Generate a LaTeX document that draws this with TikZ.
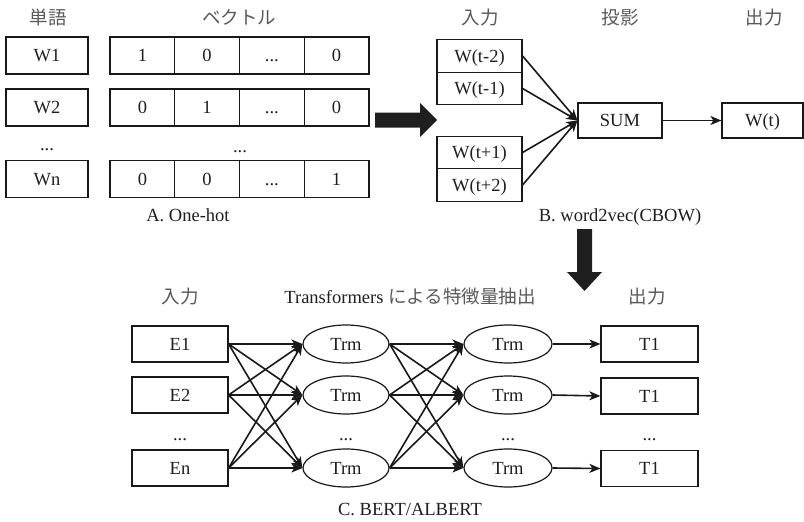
\documentclass[tikz,border=0pt]{standalone}
\usepackage{fontspec}
\setmainfont{Liberation Serif}
\newfontfamily\jpfont{Noto Sans CJK JP}
\usetikzlibrary{arrows.meta,shapes.geometric}

\begin{document}
\begin{tikzpicture}[x=1pt,y=-1pt,
  every node/.style={font=\fontsize{18.5pt}{20pt}\selectfont, text=black!88,
    inner sep=0pt, text height=12pt, text depth=0pt},
  jp/.style={font=\fontsize{18.5pt}{20pt}\selectfont\jpfont, text=black!65},
  frame/.style={draw=black!90, line width=1.2pt, rectangle},
  wbox/.style={frame, minimum width=82pt, minimum height=37pt},
  cell/.style={frame, minimum width=64.75pt, minimum height=37pt},
  ctx/.style={frame, minimum width=85pt, minimum height=32.5pt},
  midbox/.style={frame, minimum width=84pt, minimum height=35pt},
  ebox/.style={frame, minimum width=96pt, minimum height=36pt},
  trm/.style={draw=black!90, line width=1.2pt, ellipse, minimum width=86pt, minimum height=38pt},
  arr/.style={draw=black!90, line width=1.6pt,
    -{Stealth[length=11pt,width=9pt,inset=3pt]}},
  bigarrow/.style={fill=black!88}
]
\useasboundingbox[fill=white] (0,0) rectangle (804,522);

% ---------- A. One-hot ----------
\node[jp] (hwd) at (48,18) {単語};
\node[jp] (hvec) at (239,18) {ベクトル};

\node[wbox] (w1) at (47,55.5) {W1};
\node[wbox] (w2) at (47,107.5) {W2};
\node (wdots) at (47,144) {...};
\node[wbox] (wn) at (47,179) {Wn};

% one-hot vectors, four cells per row
\node[cell] (v11) at (142.4,55.5) {1};
\node[cell] (v12) at (207.1,55.5) {0};
\node[cell] (v13) at (271.9,55.5) {...};
\node[cell] (v14) at (336.6,55.5) {0};

\node[cell] (v21) at (142.4,107.5) {0};
\node[cell] (v22) at (207.1,107.5) {1};
\node[cell] (v23) at (271.9,107.5) {...};
\node[cell] (v24) at (336.6,107.5) {0};

\node (vdots) at (240,146) {...};

\node[cell] (vn1) at (142.4,179) {0};
\node[cell] (vn2) at (207.1,179) {0};
\node[cell] (vn3) at (271.9,179) {...};
\node[cell] (vn4) at (336.6,179) {1};

\node (capa) at (188,215) {A. One-hot};

% block arrow from A to B
\fill[bigarrow] (375,112.5) -- (420,112.5) -- (420,103) -- (437,120)
  -- (420,137) -- (420,127.5) -- (375,127.5) -- cycle;

% ---------- B. word2vec (CBOW) ----------
\node[jp] (hin) at (480,18) {入力};
\node[jp] (hproj) at (620,18) {投影};
\node[jp] (hout) at (764,18) {出力};

\node[ctx] (tm2) at (479.5,56) {W(t-2)};
\node[ctx] (tm1) at (479.5,88.5) {W(t-1)};
\node[ctx] (tp1) at (479.5,152.5) {W(t+1)};
\node[ctx] (tp2) at (479.5,185) {W(t+2)};

\node[midbox] (sum) at (620,120.5) {SUM};
\node[midbox, minimum width=81pt] (wt) at (762.5,120.5) {W(t)};

\foreach \s in {tm2,tm1,tp1,tp2}
  \draw[arr] (\s.east) -- (sum.west);
\draw[arr] (sum.east) -- (wt.west);

\node (capb) at (620,215) {B. word2vec(CBOW)};

% block arrow from B to C
\fill[bigarrow] (577,229) -- (592,229) -- (592,272) -- (602,272)
  -- (584.5,291) -- (567,272) -- (577,272) -- cycle;

% ---------- C. BERT / ALBERT ----------
\node[jp] (cin) at (180,297) {入力};
\node (ctitle) at (410,297) {Transformers {\jpfont\color{black!65}による特徴量抽出}};
\node[jp] (cout) at (647,297) {出力};

\node[ebox] (e1) at (180,344) {E1};
\node[ebox] (e2) at (180,395) {E2};
\node (edots) at (180,434) {...};
\node[ebox] (en) at (180,468) {En};

\node[trm] (a1) at (346,344) {Trm};
\node[trm] (a2) at (346,395) {Trm};
\node (adots) at (346,434) {...};
\node[trm] (an) at (346,468) {Trm};

\node[trm, minimum width=88pt] (b1) at (508,344) {Trm};
\node[trm, minimum width=88pt] (b2) at (508,395) {Trm};
\node (bdots) at (508,434) {...};
\node[trm, minimum width=88pt] (bn) at (508,468) {Trm};

\node[ebox, minimum width=97pt] (t1) at (649.5,344) {T1};
\node[ebox, minimum width=97pt] (t2) at (649.5,396) {T1};
\node (tdots) at (649.5,434) {...};
\node[ebox, minimum width=97pt] (tn) at (649.5,468.5) {T1};

\foreach \s in {e1,e2,en}
  \foreach \t in {a1,a2,an}
    \draw[arr] (\s.east) -- (\t.west);
\foreach \s in {a1,a2,an}
  \foreach \t in {b1,b2,bn}
    \draw[arr] (\s.east) -- (\t.west);
\draw[arr] (b1.east) -- (t1.west);
\draw[arr] (b2.east) -- (t2.west);
\draw[arr] (bn.east) -- (tn.west);

\node (capc) at (410,509) {C. BERT/ALBERT};
\end{tikzpicture}
\end{document}
